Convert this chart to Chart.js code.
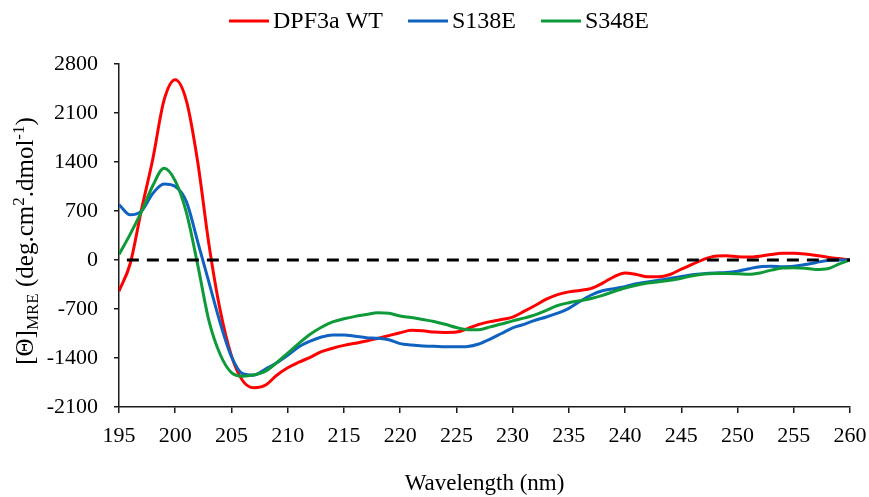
<!DOCTYPE html>
<html>
<head>
<meta charset="utf-8">
<script src="https://cdn.jsdelivr.net/npm/chart.js@4.4.1/dist/chart.umd.min.js"></script>
<style>
  html, body { margin: 0; padding: 0; background: #ffffff; }
  #wrap { width: 869px; height: 497px; }
</style>
</head>
<body>
<div id="wrap"><canvas id="cd" width="869" height="497"></canvas></div>
<script>
// Wavelength (nm) of each reading
const wavelengths = [
  195, 196, 197, 198, 199, 200, 201, 202, 203, 204, 205, 206, 207, 208, 209, 210,
  211, 212, 213, 214, 215, 216, 217, 218, 219, 220, 221, 222, 223, 224, 225, 226,
  227, 228, 229, 230, 231, 232, 233, 234, 235, 236, 237, 238, 239, 240, 241, 242,
  243, 244, 245, 246, 247, 248, 249, 250, 251, 252, 253, 254, 255, 256, 257, 258,
  259, 260
];

// Mean residue ellipticity, deg.cm2.dmol-1
const wtValues = [
  -445, -50, 720, 1440, 2280, 2575, 2270, 1400, 220, -720, -1370, -1725, -1825, -1790, -1650, -1540,
  -1460, -1390, -1310, -1260, -1220, -1190, -1158, -1120, -1080, -1040, -1005, -1010, -1030, -1035, -1030, -980,
  -920, -880, -850, -815, -735, -650, -560, -495, -455, -435, -405, -330, -240, -185, -207, -240,
  -240, -207, -130, -60, 10, 55, 60, 45, 42, 55, 80, 95, 95, 85, 65, 40,
  20, 0
];
const s138eValues = [
  792, 645, 700, 950, 1085, 1050, 830, 260, -320, -900, -1380, -1625, -1645, -1560, -1470, -1360,
  -1240, -1160, -1100, -1070, -1072, -1090, -1110, -1118, -1140, -1195, -1215, -1228, -1232, -1240, -1240, -1235,
  -1200, -1130, -1050, -970, -920, -860, -815, -760, -690, -590, -500, -440, -410, -380, -340, -315,
  -290, -265, -235, -210, -195, -185, -178, -160, -125, -95, -90, -95, -90, -65, -35, -8,
  0, 0
];
const s348eValues = [
  78, 370, 690, 1060, 1310, 1130, 673, -70, -870, -1350, -1610, -1660, -1640, -1590, -1470, -1330,
  -1190, -1060, -960, -885, -840, -805, -780, -752, -760, -800, -822, -850, -878, -918, -965, -995,
  -995, -955, -915, -870, -830, -785, -720, -650, -610, -580, -550, -505, -450, -400, -360, -330,
  -310, -290, -260, -225, -200, -193, -193, -195, -205, -185, -145, -115, -110, -118, -136, -125,
  -60, 0
];

// Dashed zero baseline end points
const baselineX = [195.7, 260];
const baselineY = [0, 0];

// Axis ticks
const xTickValues = [195, 200, 205, 210, 215, 220, 225, 230, 235, 240, 245, 250, 255, 260];
const yTickValues = [-2100, -1400, -700, 0, 700, 1400, 2100, 2800];

const seriesNames = ['DPF3a WT', 'S138E', 'S348E'];
const xTitle = 'Wavelength (nm)';
// Y title pieces: normal text, subscript and superscripts
const yTitleParts = [
  { text: '[Θ]', kind: 'normal' },
  { text: 'MRE', kind: 'sub' },
  { text: ' (deg.cm', kind: 'normal' },
  { text: '2', kind: 'sup' },
  { text: '.dmol', kind: 'normal' },
  { text: '-1', kind: 'sup' },
  { text: ')', kind: 'normal' }
];

const SERIF = '"Liberation Serif", "Times New Roman", serif';
const INK = '#1a1a1a';
const COLORS = ['#FF0000', '#0F62C0', '#0F9A3A'];

const toPoints = (xs, ys) => xs.map((x, i) => ({ x: x, y: ys[i] }));

// Legend drawn as a single centred row above the plot
const rowLegend = {
  id: 'rowLegend',
  afterDraw(chart) {
    const ctx = chart.ctx;
    const items = chart.data.datasets.filter(d => d.inLegend);
    const lineLen = 40, textGap = 4, itemGap = 25, cy = 21, cx = 439;
    ctx.save();
    ctx.font = '24px ' + SERIF;
    const widths = items.map(d => ctx.measureText(d.label).width);
    const total = widths.reduce((a, w) => a + lineLen + textGap + w, 0) + itemGap * (items.length - 1);
    let x = cx - total / 2;
    items.forEach((d, i) => {
      ctx.strokeStyle = d.borderColor;
      ctx.lineWidth = 3;
      ctx.beginPath();
      ctx.moveTo(x, cy);
      ctx.lineTo(x + lineLen, cy);
      ctx.stroke();
      ctx.fillStyle = '#000';
      ctx.textBaseline = 'middle';
      ctx.textAlign = 'left';
      ctx.fillText(d.label, x + lineLen + textGap, cy + 1);
      x += lineLen + textGap + widths[i] + itemGap;
    });
    ctx.restore();
  }
};

// Rotated y-axis title with subscript and superscripts
const yTitle = {
  id: 'yTitle',
  afterDraw(chart) {
    const ctx = chart.ctx;
    const big = 25, small = 17;
    const cx = 25, cy = 241;
    ctx.save();
    const fontFor = k => (k === 'normal' ? big : small) + 'px ' + SERIF;
    let total = 0;
    const w = yTitleParts.map(p => { ctx.font = fontFor(p.kind); const m = ctx.measureText(p.text).width; total += m; return m; });
    ctx.translate(cx, cy);
    ctx.rotate(-Math.PI / 2);
    ctx.fillStyle = '#000';
    ctx.textBaseline = 'alphabetic';
    ctx.textAlign = 'left';
    let x = -total / 2;
    const base = 8;
    yTitleParts.forEach((p, i) => {
      ctx.font = fontFor(p.kind);
      let y = base;
      if (p.kind === 'sub') y += 5;
      if (p.kind === 'sup') y -= 9;
      ctx.fillText(p.text, x, y);
      x += w[i];
    });
    ctx.restore();
  }
};

const datasets = [
  {
    label: 'zero', data: toPoints(baselineX, baselineY), inLegend: false,
    borderColor: '#000', borderWidth: 3, borderDash: [12, 8], pointRadius: 0, order: 0, tension: 0
  },
  {
    label: seriesNames[0], data: toPoints(wavelengths, wtValues), inLegend: true,
    borderColor: COLORS[0], backgroundColor: COLORS[0], borderWidth: 3, pointRadius: 0,
    cubicInterpolationMode: 'monotone', order: 3
  },
  {
    label: seriesNames[1], data: toPoints(wavelengths, s138eValues), inLegend: true,
    borderColor: COLORS[1], backgroundColor: COLORS[1], borderWidth: 3, pointRadius: 0,
    cubicInterpolationMode: 'monotone', order: 2
  },
  {
    label: seriesNames[2], data: toPoints(wavelengths, s348eValues), inLegend: true,
    borderColor: COLORS[2], backgroundColor: COLORS[2], borderWidth: 3, pointRadius: 0,
    cubicInterpolationMode: 'monotone', order: 1
  }
];

new Chart(document.getElementById('cd'), {
  type: 'line',
  data: { datasets: datasets },
  options: {
    responsive: false,
    animation: false,
    devicePixelRatio: 1,
    layout: { padding: { top: 64, right: 19, bottom: 0, left: 0 } },
    plugins: { legend: { display: false }, tooltip: { enabled: false } },
    elements: { line: { borderCapStyle: 'butt', borderJoinStyle: 'round' } },
    scales: {
      x: {
        type: 'linear', min: 195, max: 260,
        afterFit(s) { s.height = 90; s.paddingLeft = 0; s.paddingRight = 0; },
        afterBuildTicks(s) { s.ticks = xTickValues.map(v => ({ value: v })); },
        grid: { display: true, drawOnChartArea: false, drawTicks: true, tickLength: 6, color: INK, lineWidth: 1.5 },
        border: { display: true, color: INK, width: 1.5 },
        ticks: {
          color: '#000', padding: 10, maxRotation: 0, autoSkip: false,
          font: { family: SERIF, size: 22, lineHeight: 1.2 },
          callback: v => String(v)
        },
        title: {
          display: true, text: xTitle, color: '#000',
          font: { family: SERIF, size: 23, lineHeight: 1.1 }, padding: { top: 0, bottom: 0 }
        }
      },
      y: {
        type: 'linear', min: -2100, max: 2800,
        afterFit(s) { s.width = 119; s.paddingTop = 0; s.paddingBottom = 0; },
        afterBuildTicks(s) { s.ticks = yTickValues.map(v => ({ value: v })); },
        grid: { display: true, drawOnChartArea: false, drawTicks: true, tickLength: 5, color: INK, lineWidth: 1.5 },
        border: { display: true, color: INK, width: 1.5 },
        ticks: {
          color: '#000', padding: 16, autoSkip: false,
          font: { family: SERIF, size: 22, lineHeight: 1.2 },
          callback: v => String(v)
        }
      }
    }
  },
  plugins: [rowLegend, yTitle]
});
</script>
</body>
</html>
